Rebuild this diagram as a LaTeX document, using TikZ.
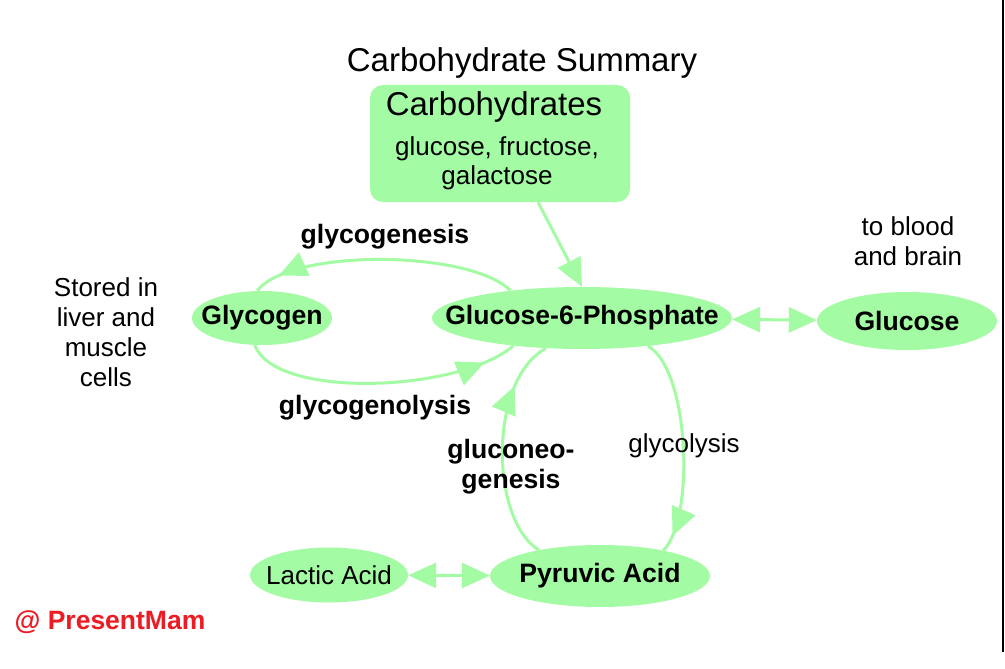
\documentclass[tikz,border=0pt]{standalone}
\usepackage{fontspec}
\setmainfont{Liberation Sans}
\usetikzlibrary{shapes.geometric,arrows.meta,decorations.markings,calc}
\definecolor{pg}{RGB}{163,251,163}
\definecolor{wmred}{RGB}{236,28,36}
\newcommand{\zb}[1]{\makebox[0pt]{#1}}
\begin{document}
\begin{tikzpicture}[x=1pt,y=-1pt,
  every node/.style={font=\fontsize{26}{30}\selectfont, align=center},
  oval/.style={ellipse, fill=pg, inner sep=0pt},
  bold/.style={font=\fontsize{26.6}{30}\selectfont\bfseries},
  conn/.style={draw=pg, line width=3pt},
  midarrow/.style={conn, postaction={decorate},
    decoration={markings, mark=at position #1 with {\arrow[pg]{Triangle[length=28pt,width=25pt]}}}}
]
\path[use as bounding box, fill=white] (0,0) rectangle (1005,669);
\draw[line width=2pt] (1003,0) -- (1003,652);

\node (title) at (522,63) {\fontsize{33}{36}\selectfont Carbohydrate Summary};

\node[fill=pg, rounded corners=13pt, minimum width=260pt, minimum height=117pt, inner sep=0pt] (carb) at (500,143.5) {};
\node (carbt) at (494,107) {\fontsize{33}{36}\selectfont Carbohydrates};
\node (carbs) at (497,163) {glucose, fructose,\\[-1pt] galactose};

\node[oval, minimum width=140pt, minimum height=54pt, bold] (glycogen) at (262,318) {\zb{Glycogen}};
\node[oval, minimum width=300pt, minimum height=62pt, bold] (g6p) at (582,318) {\zb{Glucose-6-Phosphate}};
\node[oval, minimum width=180pt, minimum height=58pt, bold] (glucose) at (907,321) {\zb{Glucose}};
\node[oval, minimum width=158pt, minimum height=55pt] (lactic) at (329,575) {\zb{Lactic Acid}};
\node[oval, minimum width=220pt, minimum height=62pt, bold] (pyruvic) at (600,576) {\zb{Pyruvic Acid}};

% connectors
\draw[conn, -{Triangle[length=28pt,width=25pt]}] ($(carb.south)+(38,0)$) -- (g6p.north);
\path[midarrow=0.9] (g6p.159) .. controls (470,250) and (290,248) .. (glycogen.100);
\path[midarrow=0.88] (glycogen.255) .. controls (275,400) and (460,392) .. (g6p.202);
\path[midarrow=0.78] (pyruvic.157) .. controls (490,520) and (488,380) .. (g6p.220);
\path[midarrow=0.92] (g6p.337) .. controls (690,370) and (695,520) .. (pyruvic.22);
\draw[conn, {Triangle[length=28pt,width=25pt]}-{Triangle[length=28pt,width=25pt]}] (g6p) -- (glucose);
\draw[conn, {Triangle[length=28pt,width=25pt]}-{Triangle[length=28pt,width=25pt]}] (lactic) -- (pyruvic);

% labels
\node (blood) at (908,241) {to blood\\and brain};
\node (stored) at (106,332) {Stored in\\liver and\\muscle\\cells};
\node[bold] (lgenesis) at (385,237) {glycogenesis};
\node[bold] (lgenolysis) at (375,408) {glycogenolysis};
\node[bold] (lgluconeo) at (511,467) {gluconeo-\\genesis};
\node (lglycolysis) at (684,446) {glycolysis};
\node[text=wmred, font=\fontsize{26.5}{30}\selectfont\bfseries] (wm) at (110,622) {@ PresentMam};
\end{tikzpicture}
\end{document}
